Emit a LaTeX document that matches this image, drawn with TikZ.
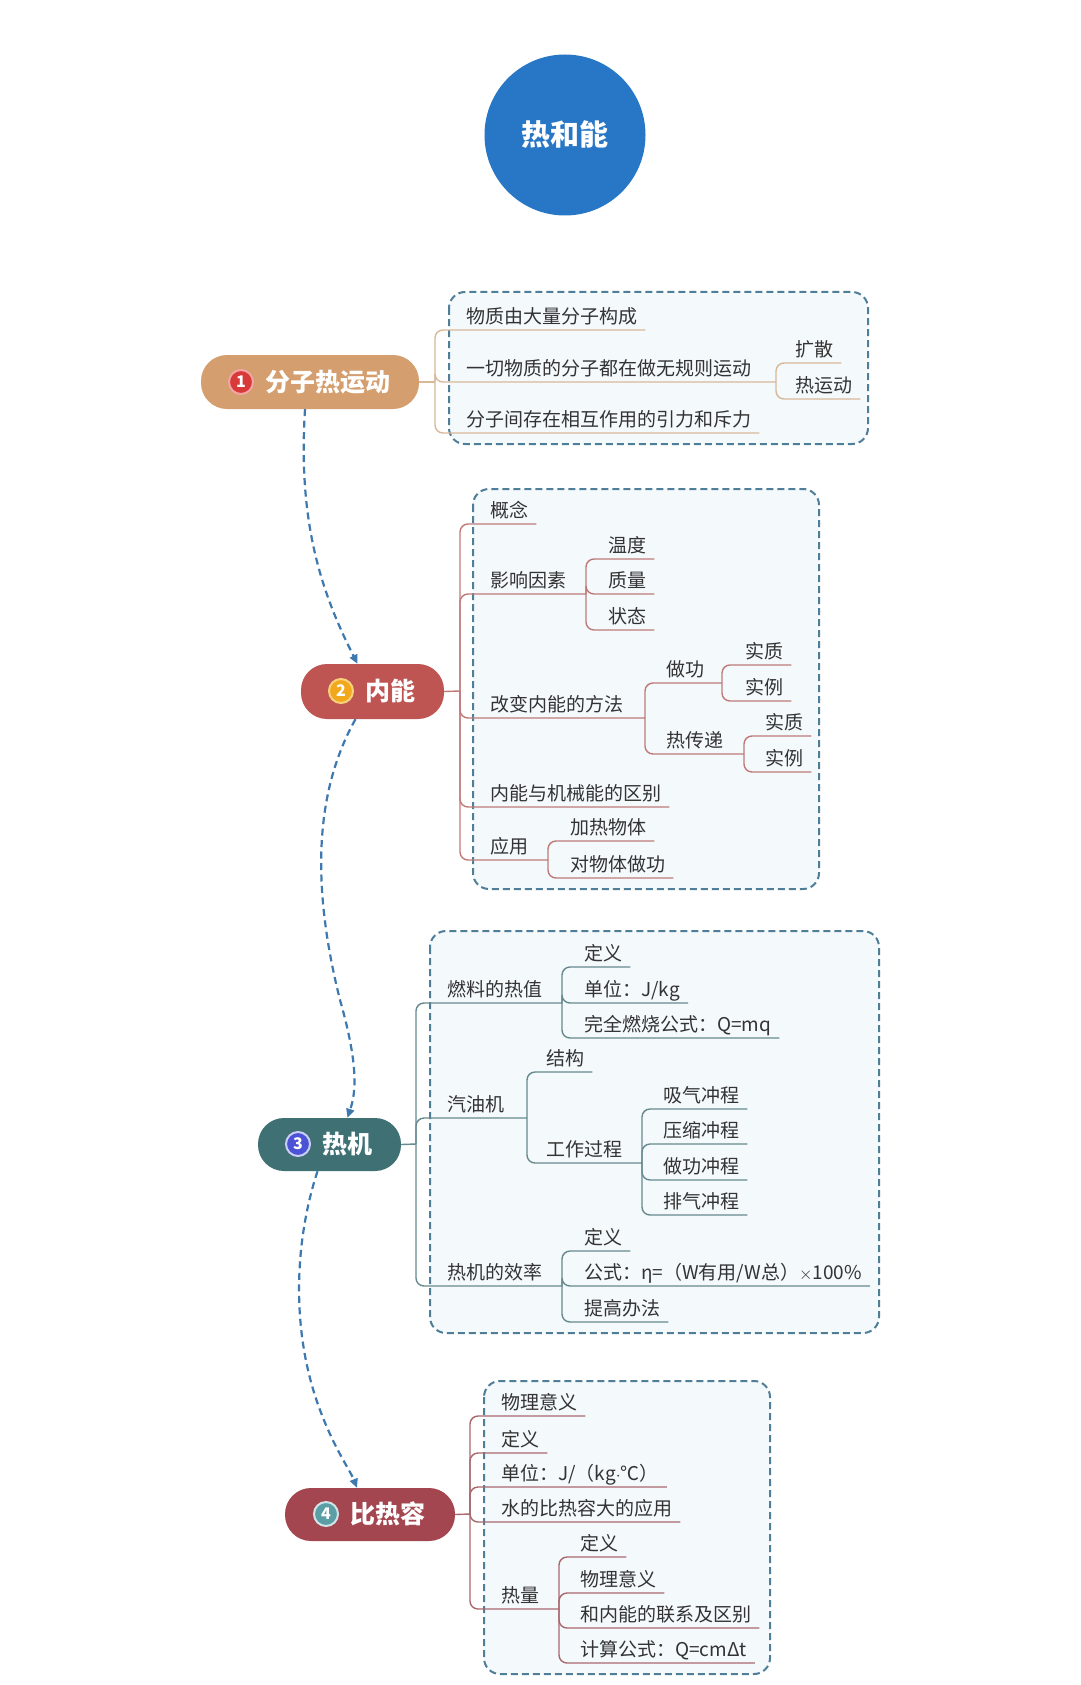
\documentclass[tikz,border=0pt]{standalone}
\usepackage{fontspec}
\setmainfont{Noto Sans CJK SC}
\usetikzlibrary{arrows.meta}
\definecolor{titlec}{HTML}{2877C6}
\definecolor{ca}{HTML}{D49E6E}\definecolor{la}{HTML}{D8B899}
\definecolor{cb}{HTML}{BF5553}\definecolor{lb}{HTML}{BF7A78}
\definecolor{cc}{HTML}{3E7074}\definecolor{lc}{HTML}{668A8E}
\definecolor{cd}{HTML}{A4464F}\definecolor{ld}{HTML}{A8686E}
\definecolor{boxc}{HTML}{4F7E98}\definecolor{boxfill}{HTML}{F4F9FC}
\definecolor{flowc}{HTML}{3D78AE}\definecolor{txt}{HTML}{333333}
\definecolor{bga}{HTML}{D83A3A}\definecolor{rga}{HTML}{F2A5A5}
\definecolor{bgb}{HTML}{F2A81D}\definecolor{rgb}{HTML}{F8D27A}
\definecolor{bgc}{HTML}{4B52D6}\definecolor{rgc}{HTML}{CACDF5}
\definecolor{bgd}{HTML}{5B9EA6}\definecolor{rgd}{HTML}{D0E5E8}
\colorlet{linec}{la}
\tikzset{
 box/.style={draw=boxc, line width=2pt, dash pattern=on 7pt off 4pt, fill=boxfill, rounded corners=16pt},
 ln/.style={draw=linec, line width=1.4pt, rounded corners=8pt},
 lbl/.style={anchor=south west, inner xsep=8pt, inner ysep=0pt, text depth=6.5pt, font=\fontsize{19}{19}\selectfont, text=txt},
 topic/.style={rectangle, rounded corners=26pt, inner sep=0pt},
 badge/.style={circle, inner sep=0pt, minimum size=24pt, line width=2pt, text=white, font=\bfseries\fontsize{16}{16}\selectfont},
 ttext/.style={anchor=west, inner sep=0pt, text=white, font=\bfseries\fontsize{25}{25}\selectfont},
 flow/.style={draw=flowc, line width=2.2pt, dash pattern=on 7pt off 4.5pt, -{Triangle[length=9pt,width=8pt]}},
}
% leaf: name, from, y, text-x, text
\newcommand\leaf[5]{%
  \node[lbl] (#1) at (#4-8,#3) {#5};
  \draw[ln] (#2) |- (#1.south east);}
% branch: name, from, y, text-x, text, sub-bracket x
\newcommand\branch[6]{%
  \node[lbl] (#1) at (#4-8,#3) {#5};
  \coordinate (#1-s) at (#6,#3);
  \draw[ln] (#2) |- (#1-s);}
\begin{document}
\begin{tikzpicture}[x=1pt,y=-1pt]
\useasboundingbox[fill=white] (0,0) rectangle (1080,1685);

% title
\node[circle, fill=titlec, minimum size=161pt, inner sep=0pt, text=white, font=\bfseries\fontsize{29}{29}\selectfont] (title) at (565,135) {热和能};

% boxes
\draw[box] (449,292) rectangle (868,444);
\draw[box] (473,489) rectangle (819,889);
\draw[box] (430,931) rectangle (879,1333);
\draw[box] (484,1381) rectangle (770,1674);

% topic nodes
\node[topic, fill=ca, minimum width=218pt, minimum height=54pt] (n1) at (310,382) {};
\node[badge, fill=bga, draw=rga] (n1b) at (241,382) {1};
\node[ttext] (n1t) at (265,382) {分子热运动};

\node[topic, fill=cb, minimum width=143pt, minimum height=55pt] (n2) at (372.5,691.5) {};
\node[badge, fill=bgb, draw=rgb] (n2b) at (341,691) {2};
\node[ttext] (n2t) at (365,691) {内能};

\node[topic, fill=cc, minimum width=143pt, minimum height=53pt] (n3) at (329.5,1144.5) {};
\node[badge, fill=bgc, draw=rgc] (n3b) at (298,1144) {3};
\node[ttext] (n3t) at (322,1144) {热机};

\node[topic, fill=cd, minimum width=170pt, minimum height=53pt] (n4) at (370,1514.5) {};
\node[badge, fill=bgd, draw=rgd] (n4b) at (326,1514) {4};
\node[ttext] (n4t) at (350,1514) {比热容};

% flow connectors
\draw[flow] ([xshift=-5pt]n1.south) .. controls (298,520) and (320,590) .. ([xshift=-15pt]n2.north);
\draw[flow] ([xshift=-17pt]n2.south) .. controls (310,800) and (315,900) .. (340,1000) .. controls (360,1070) and (355,1095) .. ([xshift=18pt]n3.north);
\draw[flow] ([xshift=-12pt]n3.south) .. controls (295,1240) and (290,1330) .. (320,1410) .. controls (335,1450) and (350,1470) .. ([xshift=-13pt]n4.north);

% section 1
\begin{scope}
\colorlet{linec}{la}
\coordinate (b1) at (435,382);
\draw[ln] (n1.east) -- (b1);
\leaf{a1}{b1}{330}{466}{物质由大量分子构成}
\branch{a2}{b1}{382}{466}{一切物质的分子都在做无规则运动}{776}
\leaf{a3}{b1}{433}{466}{分子间存在相互作用的引力和斥力}
\leaf{a21}{a2-s}{363}{795}{扩散}
\leaf{a22}{a2-s}{399}{795}{热运动}
\end{scope}

% section 2
\begin{scope}
\colorlet{linec}{lb}
\coordinate (b2) at (460,691);
\draw[ln] (n2.east) -- (b2);
\leaf{c1}{b2}{524}{490}{概念}
\branch{c2}{b2}{594}{490}{影响因素}{586}
\leaf{c21}{c2-s}{559}{608}{温度}
\leaf{c22}{c2-s}{594}{608}{质量}
\leaf{c23}{c2-s}{630}{608}{状态}
\branch{c3}{b2}{718}{490}{改变内能的方法}{645}
\branch{c31}{c3-s}{683}{666}{做功}{722}
\leaf{c311}{c31-s}{665}{745}{实质}
\leaf{c312}{c31-s}{701}{745}{实例}
\branch{c32}{c3-s}{754}{666}{热传递}{744}
\leaf{c321}{c32-s}{736}{765}{实质}
\leaf{c322}{c32-s}{772}{765}{实例}
\leaf{c4}{b2}{807}{490}{内能与机械能的区别}
\branch{c5}{b2}{860}{490}{应用}{548}
\leaf{c51}{c5-s}{841}{570}{加热物体}
\leaf{c52}{c5-s}{878}{570}{对物体做功}
\end{scope}

% section 3
\begin{scope}
\colorlet{linec}{lc}
\coordinate (b3) at (416,1144);
\draw[ln] (n3.east) -- (b3);
\branch{d1}{b3}{1003}{447}{燃料的热值}{562}
\leaf{d11}{d1-s}{967}{584}{定义}
\leaf{d12}{d1-s}{1003}{584}{单位：J/kg}
\leaf{d13}{d1-s}{1038}{584}{完全燃烧公式：Q=mq}
\branch{d2}{b3}{1118}{447}{汽油机}{527}
\leaf{d21}{d2-s}{1072}{546}{结构}
\branch{d22}{d2-s}{1163}{546}{工作过程}{642}
\leaf{d221}{d22-s}{1109}{663}{吸气冲程}
\leaf{d222}{d22-s}{1144}{663}{压缩冲程}
\leaf{d223}{d22-s}{1180}{663}{做功冲程}
\leaf{d224}{d22-s}{1215}{663}{排气冲程}
\branch{d3}{b3}{1286}{447}{热机的效率}{562}
\leaf{d31}{d3-s}{1251}{584}{定义}
\leaf{d32}{d3-s}{1286}{584}{公式：η=（W有用/W总）$\times$100\%}
\leaf{d33}{d3-s}{1322}{584}{提高办法}
\end{scope}

% section 4
\begin{scope}
\colorlet{linec}{ld}
\coordinate (b4) at (470,1514);
\draw[ln] (n4.east) -- (b4);
\leaf{e1}{b4}{1416}{501}{物理意义}
\leaf{e2}{b4}{1453}{501}{定义}
\leaf{e3}{b4}{1487}{501}{单位：J/（kg$\cdot$℃）}
\leaf{e4}{b4}{1522}{501}{水的比热容大的应用}
\branch{e5}{b4}{1609}{501}{热量}{559}
\leaf{e51}{e5-s}{1557}{580}{定义}
\leaf{e52}{e5-s}{1593}{580}{物理意义}
\leaf{e53}{e5-s}{1628}{580}{和内能的联系及区别}
\leaf{e54}{e5-s}{1663}{580}{计算公式：Q=cmΔt}
\end{scope}
\end{tikzpicture}
\end{document}
